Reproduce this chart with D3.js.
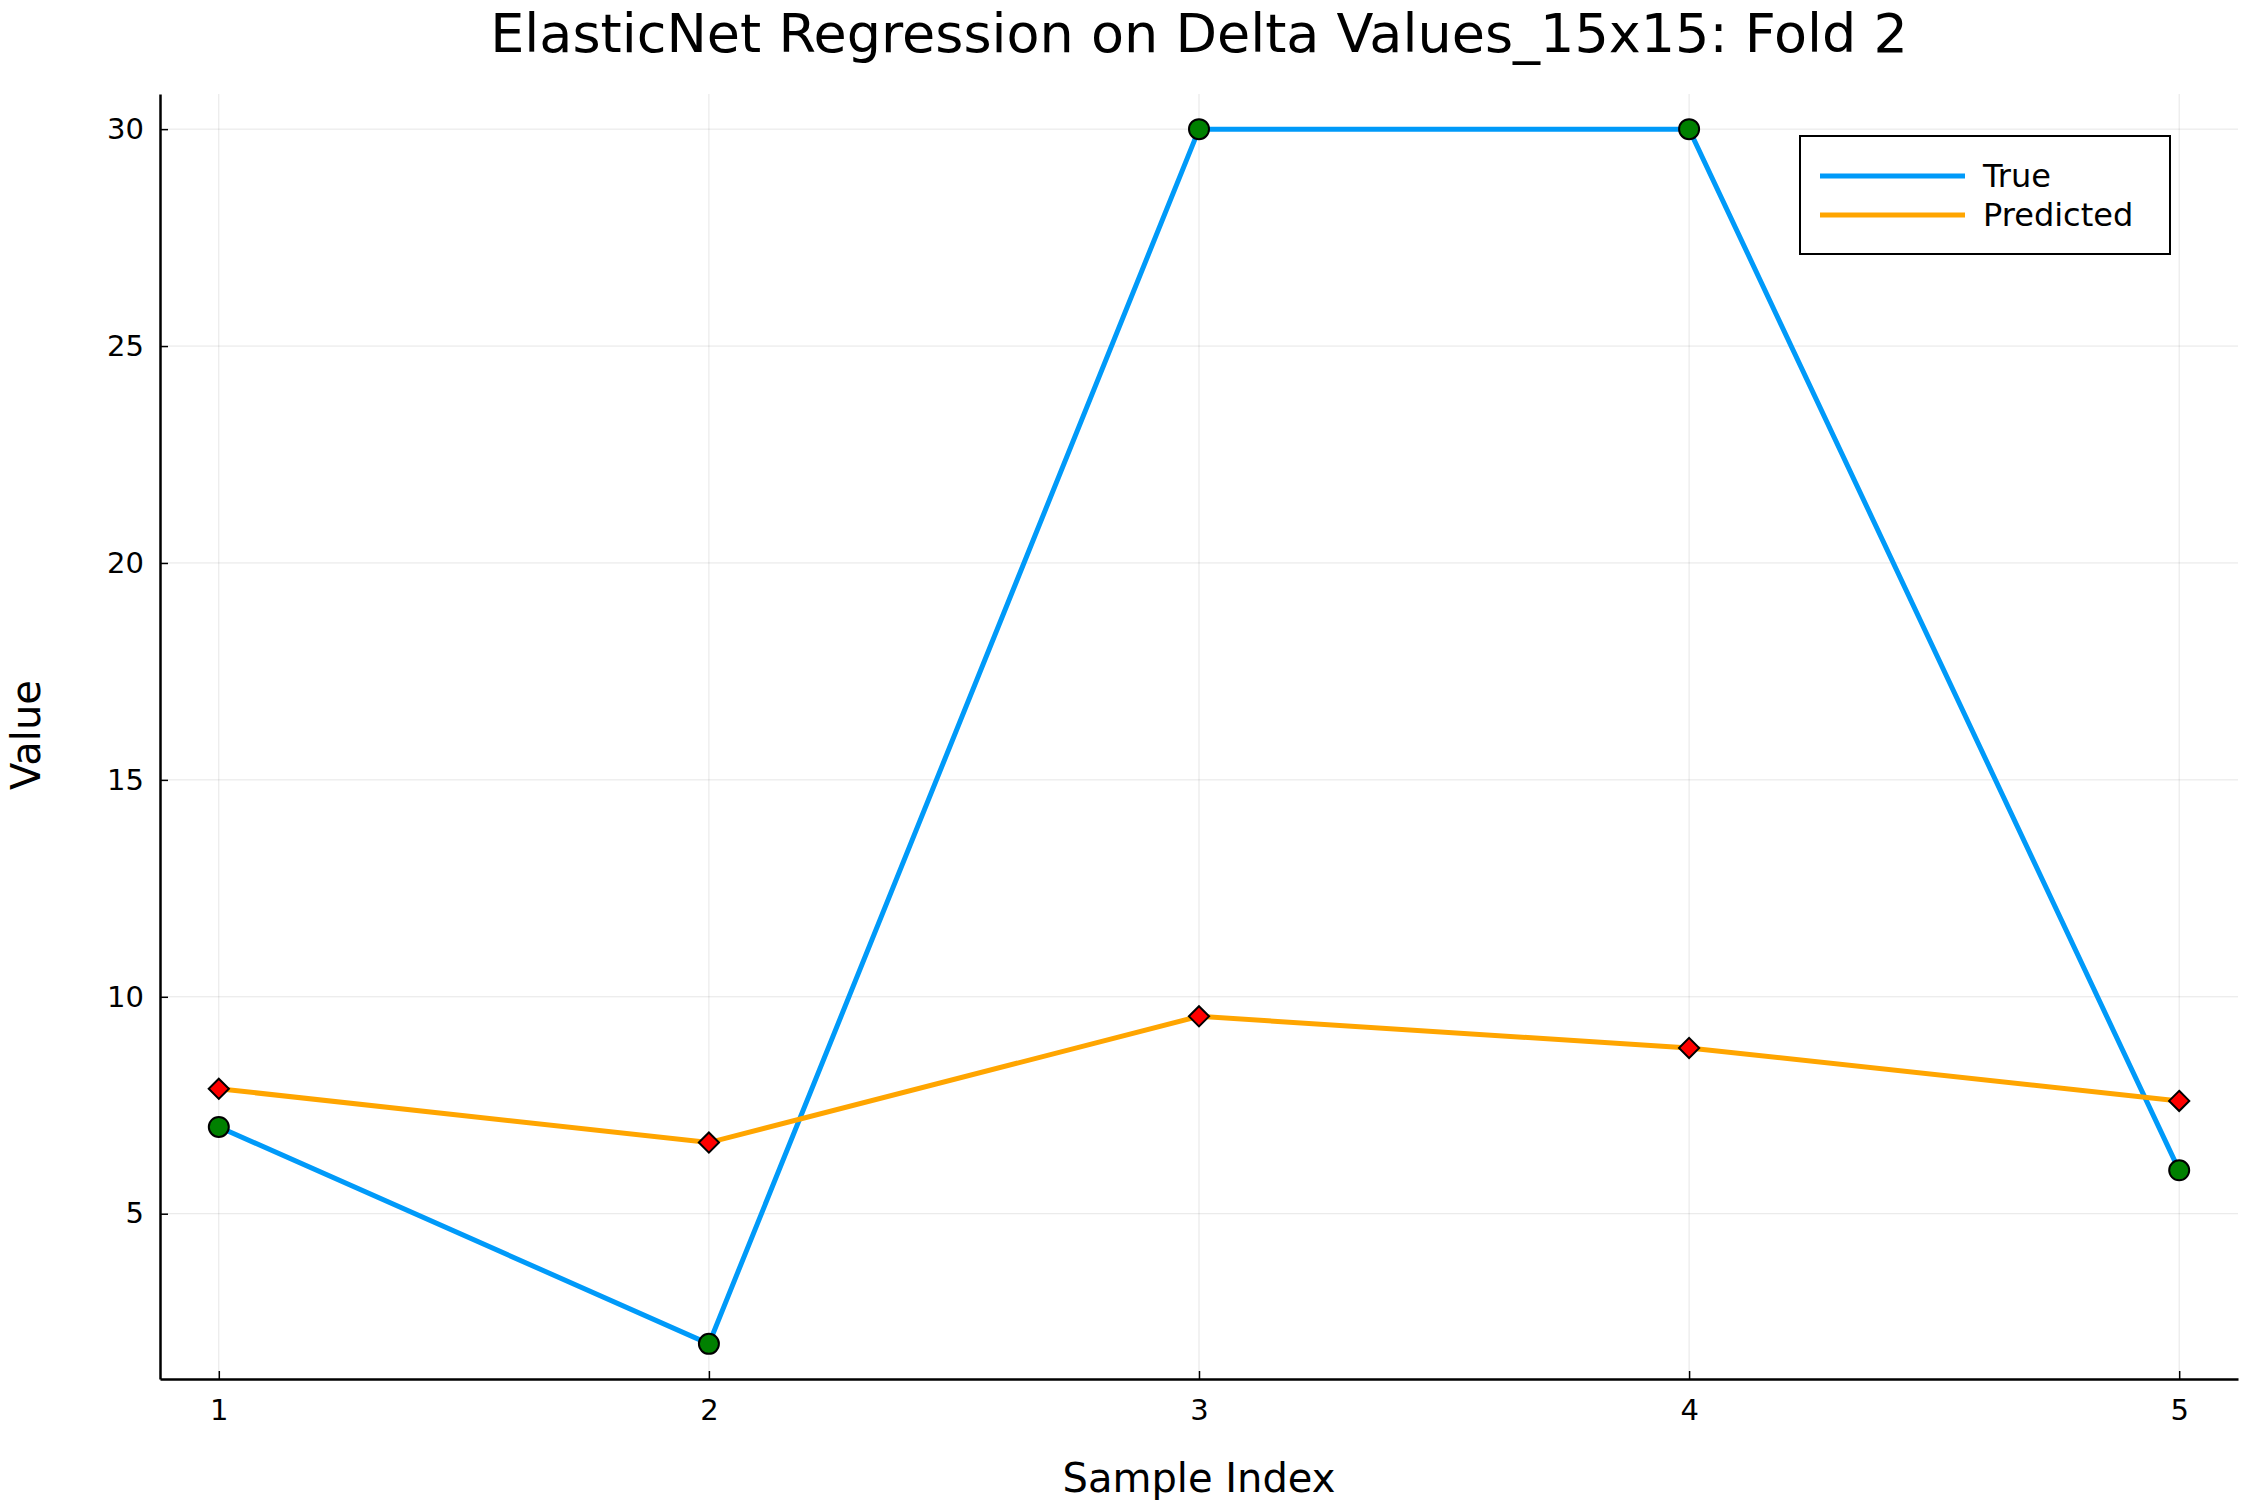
<!DOCTYPE html>
<html><head><meta charset="utf-8">
<script src="https://cdn.jsdelivr.net/npm/d3@7"></script>
<style>body{margin:0;background:#fff;font-family:"DejaVu Sans",sans-serif;}</style>
</head><body><svg width="2250" height="1500"></svg>
<script>
const sampleIndex = [1, 2, 3, 4, 5];
const trueValues = [7, 2, 30, 30, 6];
const predictedValues = [7.88, 6.64, 9.55, 8.82, 7.6];
const yTicks = [5, 10, 15, 20, 25, 30];

const svg = d3.select("svg");
const margin = { top: 94, right: 12, bottom: 121, left: 160 };
const width = 2250 - margin.left - margin.right;
const height = 1500 - margin.top - margin.bottom;
const g = svg.append("g").attr("transform", `translate(${margin.left},${margin.top})`);

const x = d3.scaleLinear().domain([0.88, 5.12]).range([0, width]);
const y = d3.scaleLinear().domain([1.19, 30.81]).range([height, 0]);

// grid
g.selectAll(".gx").data(sampleIndex).enter().append("line")
  .attr("x1", d => x(d)).attr("x2", d => x(d)).attr("y1", 0).attr("y2", height)
  .attr("stroke", "#000").attr("stroke-opacity", 0.1).attr("stroke-width", 1);
g.selectAll(".gy").data(yTicks).enter().append("line")
  .attr("y1", d => y(d)).attr("y2", d => y(d)).attr("x1", 0).attr("x2", width)
  .attr("stroke", "#000").attr("stroke-opacity", 0.1).attr("stroke-width", 1);

const xAxis = g.append("g").attr("transform", `translate(0,${height})`)
  .call(d3.axisBottom(x).tickValues(sampleIndex).tickFormat(d3.format("d")).tickSize(-8).tickSizeOuter(0).tickPadding(20));
const yAxis = g.append("g")
  .call(d3.axisLeft(y).tickValues(yTicks).tickSize(-8).tickSizeOuter(0).tickPadding(16));
[xAxis, yAxis].forEach(a => {
  a.select(".domain").attr("stroke-width", 2.5);
  a.selectAll("line").attr("stroke-width", 1.5);
  a.selectAll("text").attr("font-size", null).style("font-size", "29px").style("font-family", "DejaVu Sans");
});

const line = d3.line().x((d, i) => x(sampleIndex[i])).y(d => y(d));
g.append("path").datum(trueValues).attr("d", line).attr("fill", "none")
  .attr("stroke", "#009af9").attr("stroke-width", 5);
g.append("path").datum(predictedValues).attr("d", line).attr("fill", "none")
  .attr("stroke", "#ffa500").attr("stroke-width", 5);

g.selectAll(".tc").data(trueValues).enter().append("circle")
  .attr("cx", (d, i) => x(sampleIndex[i])).attr("cy", d => y(d)).attr("r", 10)
  .attr("fill", "#008000").attr("stroke", "#000").attr("stroke-width", 2);
g.selectAll(".pd").data(predictedValues).enter().append("path")
  .attr("d", d3.symbol().type(d3.symbolDiamond2).size(260))
  .attr("transform", (d, i) => `translate(${x(sampleIndex[i])},${y(d)})`)
  .attr("fill", "#ff0000").attr("stroke", "#000").attr("stroke-width", 2);

// title and labels
svg.append("text").attr("x", 1199).attr("y", 52).attr("text-anchor", "middle")
  .style("font-size", "54px").text("ElasticNet Regression on Delta Values_15x15: Fold 2");
svg.append("text").attr("x", 1199).attr("y", 1492).attr("text-anchor", "middle")
  .style("font-size", "40px").text("Sample Index");
svg.append("text").attr("transform", "translate(40,735) rotate(-90)").attr("text-anchor", "middle")
  .style("font-size", "40px").text("Value");

// legend
const lg = svg.append("g").attr("transform", "translate(1800,136)");
lg.append("rect").attr("width", 370).attr("height", 118).attr("fill", "#fff")
  .attr("stroke", "#000").attr("stroke-width", 2);
[["True", "#009af9"], ["Predicted", "#ffa500"]].forEach((d, i) => {
  lg.append("line").attr("x1", 20).attr("x2", 165).attr("y1", 40 + i * 39).attr("y2", 40 + i * 39)
    .attr("stroke", d[1]).attr("stroke-width", 5);
  lg.append("text").attr("x", 183).attr("y", 40 + i * 39).attr("dy", "0.35em")
    .style("font-size", "32px").text(d[0]);
});
</script></body></html>
